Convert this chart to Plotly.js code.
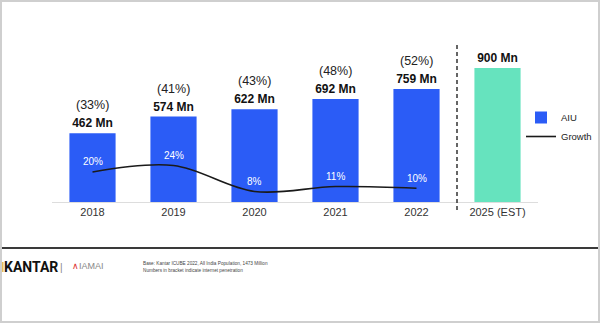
<!DOCTYPE html>
<html>
<head>
<meta charset="utf-8">
<script src="https://cdn.plot.ly/plotly-3.0.1.min.js"></script>
<style>
html,body{margin:0;padding:0;background:#fff;}
#wrap{width:600px;height:323px;box-sizing:border-box;border:2px solid #cfcfcf;position:relative;overflow:hidden;}
#chart{position:absolute;left:-2px;top:-2px;width:600px;height:323px;}
</style>
</head>
<body>
<div id="wrap"><div id="chart"></div></div>
<script>
var years = ["2018", "2019", "2020", "2021", "2022", "2025 (EST)"];
var aiu = [462, 574, 622, 692, 759, 900];
var aiuLabels = ["462 Mn", "574 Mn", "622 Mn", "692 Mn", "759 Mn", "900 Mn"];
var penetration = ["(33%)", "(41%)", "(43%)", "(48%)", "(52%)", ""];
var growthYears = ["2018", "2019", "2020", "2021", "2022"];
var growth = [20, 24, 8, 11, 10];
var growthLabels = ["20%", "24%", "8%", "11%", "10%"];
var barColors = ["#2B5CF6", "#2B5CF6", "#2B5CF6", "#2B5CF6", "#2B5CF6", "#66E3BE"];

var traces = [
  {
    type: "bar", name: "AIU", x: years, y: aiu,
    marker: {color: barColors},
    text: aiuLabels, textposition: "outside", cliponaxis: false,
    textfont: {family: "Liberation Sans, Arial, sans-serif", size: 12, color: "#111", weight: "bold"},
    hoverinfo: "skip"
  },
  {
    type: "scatter", mode: "lines", name: "Growth", x: growthYears, y: growth, yaxis: "y2",
    line: {color: "#1a1a1a", width: 1.6, shape: "spline", smoothing: 1.0},
    hoverinfo: "skip"
  }
];

var annotations = [];
for (var i = 0; i < years.length; i++) {
  if (penetration[i]) {
    annotations.push({
      x: years.indexOf(years[i]), y: aiu[i], xref: "x", yref: "y", text: penetration[i],
      showarrow: false, yshift: 28, yanchor: "middle",
      font: {family: "Liberation Sans, Arial, sans-serif", size: 12.5, color: "#222"}
    });
  }
}
for (var j = 0; j < growthYears.length; j++) {
  annotations.push({
    x: years.indexOf(growthYears[j]), y: growth[j], xref: "x", yref: "y2", text: growthLabels[j],
    showarrow: false, yshift: 10, yanchor: "middle",
    font: {family: "Liberation Sans, Arial, sans-serif", size: 10, color: "#ffffff"}
  });
}
function px(x){ return (x - 52) / 486; }
function py(y){ return (202 - y) / 172; }
annotations.push({xref:"paper", yref:"paper", x: px(2), y: py(267), xanchor:"left", yanchor:"middle", showarrow:false,
  text:"KANTAR", font:{family:"Roboto, sans-serif", size:14, color:"#111", weight:"bold"}});
annotations.push({xref:"paper", yref:"paper", x: px(61), y: py(267), xanchor:"center", yanchor:"middle", showarrow:false,
  text:"|", font:{family:"Liberation Sans, Arial, sans-serif", size:10, color:"#888"}});
annotations.push({xref:"paper", yref:"paper", x: px(70), y: py(266), xanchor:"left", yanchor:"middle", showarrow:false,
  text:"<span style='color:#d33'>∧</span>IAMAI", font:{family:"Liberation Sans Narrow, Liberation Sans, sans-serif", size:9, color:"#888"}});
annotations.push({xref:"paper", yref:"paper", x: px(141), y: py(263), xanchor:"left", yanchor:"middle", showarrow:false,
  text:"Base: Kantar ICUBE 2022, All India Population, 1473 Million", font:{family:"Liberation Sans, Arial, sans-serif", size:4.7, color:"#444"}});
annotations.push({xref:"paper", yref:"paper", x: px(141), y: py(270), xanchor:"left", yanchor:"middle", showarrow:false,
  text:"Numbers in bracket indicate internet penetration", font:{family:"Liberation Sans, Arial, sans-serif", size:4.7, color:"#444"}});

var shapes = [
  {type:"line", xref:"x", yref:"paper", x0:4.5, x1:4.5, y0:py(210), y1:py(45),
   line:{color:"#333", width:1.5, dash:"4px,3px"}},
  {type:"line", xref:"paper", yref:"paper", x0:px(2), x1:px(598), y0:py(248), y1:py(248),
   line:{color:"#3a3a3a", width:2.2}},
  {type:"line", xref:"paper", yref:"paper", x0:px(2.8), x1:px(2.8), y0:py(262), y1:py(272),
   line:{color:"#E3B23C", width:1.3}}
];

var layout = {
  width: 600, height: 323,
  margin: {l: 52, r: 62, t: 30, b: 121, pad: 0, autoexpand: false},
  paper_bgcolor: "rgba(0,0,0,0)", plot_bgcolor: "rgba(0,0,0,0)",
  bargap: 0.43,
  showlegend: true,
  legend: {x: px(521), xanchor: "left", y: py(103), yanchor: "top", itemwidth: 30,
    font: {family: "Liberation Sans, Arial, sans-serif", size: 9.5, color: "#222"},
    tracegroupgap: 0, bgcolor: "rgba(0,0,0,0)"},
  xaxis: {type: "category", range: [-0.5, 5.5], showgrid: false, zeroline: false,
    showline: true, linecolor: "#dddddd", linewidth: 1, ticks: "",
    tickfont: {family: "Liberation Sans, Arial, sans-serif", size: 11, color: "#333"}},
  yaxis: {range: [0, 1155], visible: false, showgrid: false, zeroline: false},
  yaxis2: {range: [1.5, 107.4], overlaying: "y", side: "right", visible: false, showgrid: false, zeroline: false},
  annotations: annotations,
  shapes: shapes
};
Plotly.newPlot("chart", traces, layout, {displayModeBar: false, staticPlot: true});
</script>
</body>
</html>
